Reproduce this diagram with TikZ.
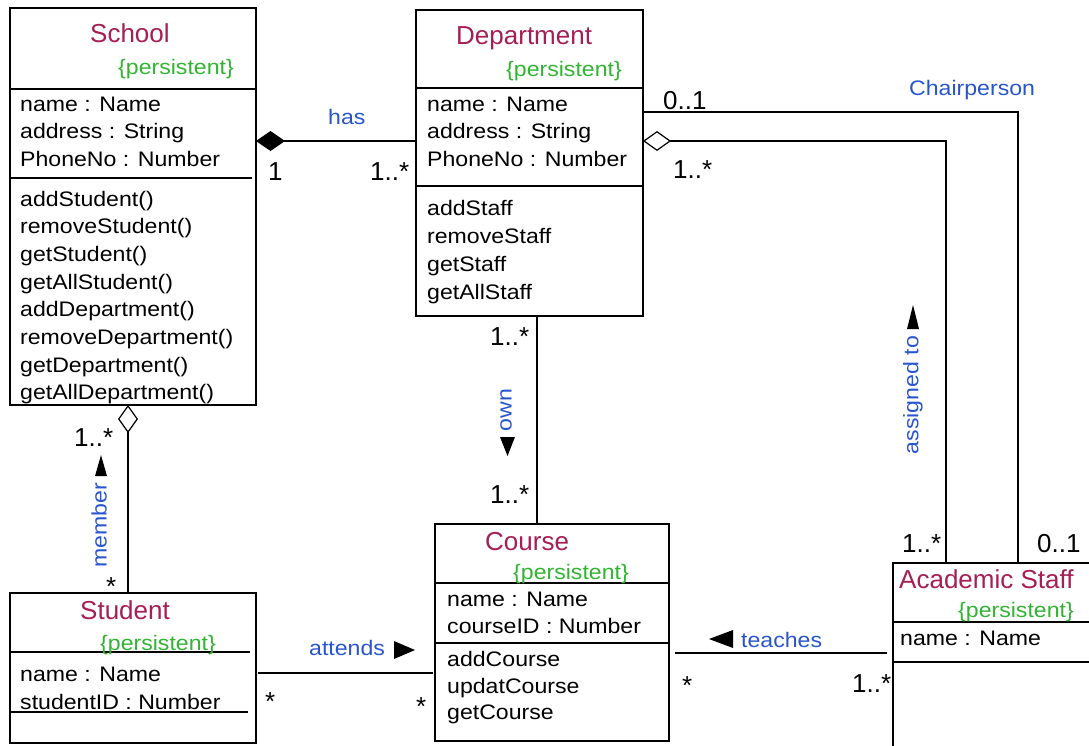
\documentclass[tikz,border=0pt]{standalone}
\usepackage{fontspec}
\setmainfont{Liberation Sans}
\newfontfamily\widefont{Liberation Sans}[FakeStretch=1.1]
\usetikzlibrary{arrows.meta}
\definecolor{titlec}{RGB}{165,30,85}
\definecolor{persc}{RGB}{50,180,50}
\definecolor{labc}{RGB}{40,85,205}
\tikzset{
  classbox/.style={draw, line width=1.2pt, inner sep=0pt, outer sep=0pt, anchor=north west},
  sepline/.style={line width=1.2pt},
  conn/.style={line width=1.2pt},
  titletext/.style={anchor=base west, inner sep=0pt, text=titlec, font=\fontsize{26}{30}\selectfont},
  perstext/.style={anchor=base west, inner sep=0pt, text=persc, font=\widefont\fontsize{21}{25}\selectfont},
  attrtext/.style={anchor=base west, inner sep=0pt, font=\widefont\fontsize{21}{25}\selectfont},
  multtext/.style={anchor=base west, inner sep=0pt, font=\fontsize{26}{30}\selectfont},
  labtext/.style={anchor=base west, inner sep=0pt, text=labc, font=\widefont\fontsize{21}{25}\selectfont},
  rlabtext/.style={anchor=center, inner sep=0pt, text=labc, rotate=90, font=\widefont\fontsize{21}{25}\selectfont},
  dirtri/.style={fill=black, draw=none}
}
\begin{document}
\begin{tikzpicture}[x=1pt,y=-1pt]
\useasboundingbox[fill=white] (0,0) rectangle (1089,745);

% ---- class boxes
\node[classbox, minimum width=246pt, minimum height=397pt] (school) at (10,8) {};
\node[classbox, minimum width=227pt, minimum height=306pt] (dept) at (416,10) {};
\node[classbox, minimum width=234pt, minimum height=217pt] (course) at (435,524) {};
\node[classbox, minimum width=246pt, minimum height=150pt] (student) at (10,593) {};
\node[classbox, minimum width=220pt, minimum height=200pt] (staff) at (893,563) {};

% ---- compartment lines
\draw[sepline] (school.west |- 0,89) -- (school.east |- 0,89);
\draw[sepline] (school.west |- 0,178) -- (252,178);
\draw[sepline] (dept.west |- 0,88) -- (dept.east |- 0,88);
\draw[sepline] (dept.west |- 0,186) -- (dept.east |- 0,186);
\draw[sepline] (course.west |- 0,583) -- (course.east |- 0,583);
\draw[sepline] (course.west |- 0,643) -- (course.east |- 0,643);
\draw[sepline] (student.west |- 0,652) -- (250,652);
\draw[sepline] (student.west |- 0,712) -- (248,712);
\draw[sepline] (staff.west |- 0,622) -- (1089,622);
\draw[sepline] (staff.west |- 0,662) -- (1089,662);

% ---- School
\node[titletext] (schoolt) at (90,42) {School};
\node[perstext] (schoolp) at (118,74) {\{persistent\}};
\foreach \t [count=\i] in {name : Name, address : String, PhoneNo : Number}
  \node[attrtext] (scha\i) at (20,{111+27.5*(\i-1)}) {\t};
\foreach \t [count=\i] in {addStudent(), removeStudent(), getStudent(), getAllStudent(), addDepartment(), removeDepartment(), getDepartment(), getAllDepartment()}
  \node[attrtext] (schm\i) at (20,{206+27.7*(\i-1)}) {\t};

% ---- Department
\node[titletext] (deptt) at (456,44) {Department};
\node[perstext] (deptp) at (506,76) {\{persistent\}};
\foreach \t [count=\i] in {name : Name, address : String, PhoneNo : Number}
  \node[attrtext] (depa\i) at (427,{111+27.5*(\i-1)}) {\t};
\foreach \t [count=\i] in {addStaff, removeStaff, getStaff, getAllStaff}
  \node[attrtext] (depm\i) at (427,{215+28.3*(\i-1)}) {\t};

% ---- Course
\node[titletext] (courset) at (485,550) {Course};
\node[perstext] (coursep) at (513,579) {\{persistent\}};
\node[attrtext] (coua1) at (447,606) {name : Name};
\node[attrtext] (coua2) at (447,633) {courseID : Number};
\node[attrtext] (coum1) at (447,666) {addCourse};
\node[attrtext] (coum2) at (447,693) {updatCourse};
\node[attrtext] (coum3) at (447,719) {getCourse};

% ---- Student
\node[titletext] (studentt) at (80,619) {Student};
\node[perstext] (studentp) at (100,650) {\{persistent\}};
\node[attrtext] (stua1) at (20,681) {name : Name};
\node[attrtext] (stua2) at (20,709) {studentID : Number};

% ---- Academic Staff
\node[titletext] (stafft) at (899,588) {Academic Staff};
\node[perstext] (staffp) at (958,617) {\{persistent\}};
\node[attrtext] (stafa1) at (900,645) {name : Name};

% ---- connectors
% has
\draw[conn, {Diamond[length=29pt,width=20pt]}-] (school.east |- 0,141) -- (dept.west |- 0,141);
\node[labtext] (haslab) at (328,124) {has};
\node[multtext] (has1) at (268,180) {1};
\node[multtext] (has2) at (370,180) {1..*};

% Chairperson
\coordinate (chairc) at (1018,112);
\draw[conn] (dept.east |- chairc) -- (chairc) -- (staff.north -| chairc);
\node[labtext] (chairlab) at (909,95) {Chairperson};
\node[multtext] (chair1) at (663,109) {0..1};
\node[multtext] (chair2) at (1037,552) {0..1};

% assigned to
\coordinate (assc) at (946,141);
\draw[conn, {Diamond[open,length=28pt,width=20pt]}-] (dept.east |- assc) -- (assc) -- (staff.north -| assc);
\node[rlabtext] (asslab) at (913,395) {assigned to};
\fill[dirtri] (913,305) -- (919,329) -- (907,329) -- cycle;
\node[multtext] (ass1) at (673,178) {1..*};
\node[multtext] (ass2) at (902,552) {1..*};

% own
\draw[conn] (dept.south -| 537,0) -- (course.north -| 537,0);
\node[rlabtext] (ownlab) at (506,410) {own};
\fill[dirtri] (500,437) -- (515,437) -- (507.5,456) -- cycle;
\node[multtext] (own1) at (490,345) {1..*};
\node[multtext] (own2) at (490,503) {1..*};

% member
\draw[conn, {Diamond[open,length=28pt,width=20pt]}-] (school.south -| 128,0) -- (student.north -| 128,0);
\node[rlabtext] (memlab) at (99,525) {member};
\fill[dirtri] (101,455) -- (107,476) -- (95,476) -- cycle;
\node[multtext] (mem1) at (74,446) {1..*};
\node[multtext] (mem2) at (106,595) {*};

% attends
\draw[conn] ([xshift=2pt]student.east |- 0,673) -- ([xshift=-2pt]course.west |- 0,673);
\node[labtext] (attlab) at (309,655) {attends};
\fill[dirtri] (394,641) -- (415,650) -- (394,659) -- cycle;
\node[multtext] (att1) at (265,710) {*};
\node[multtext] (att2) at (416,715) {*};

% teaches
\draw[conn] ([xshift=6pt]course.east |- 0,653) -- ([xshift=-6pt]staff.west |- 0,653);
\node[labtext] (teachlab) at (741,647) {teaches};
\fill[dirtri] (709,639) -- (733,630) -- (733,648) -- cycle;
\node[multtext] (teach1) at (682,694) {*};
\node[multtext] (teach2) at (852,692) {1..*};
\end{tikzpicture}
\end{document}
